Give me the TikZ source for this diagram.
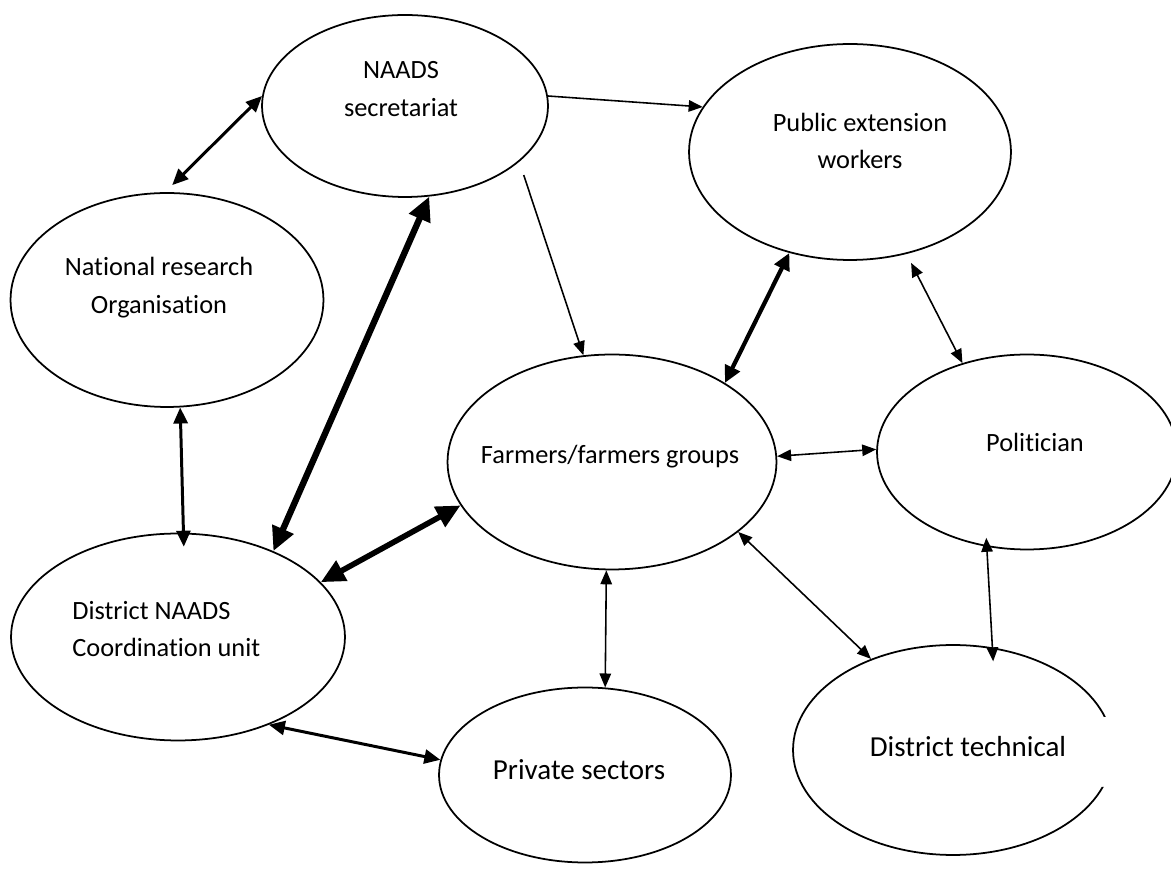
\documentclass[tikz,border=0pt]{standalone}
\usepackage{fontspec}
\setmainfont{Carlito}[Ligatures=NoCommon]
\usetikzlibrary{shapes.geometric, arrows.meta}

\begin{document}
\begin{tikzpicture}[x=0.02cm, y=-0.02cm, font=\fontsize{15}{21.5}\selectfont,
    bubble/.style={draw, ellipse, line width=1pt, inner sep=0pt},
    txt/.style={align=center, inner sep=0pt},
    big/.style={font=\fontsize{16.5}{20}\selectfont},
    slim link/.style={<->, line width=0.9pt, >={Triangle[length=2.8mm, width=2.3mm]}},
    mid link/.style={<->, line width=1.7pt, >={Triangle[length=3.2mm, width=2.8mm]}},
    bold link/.style={<->, line width=2.4pt, >={Triangle[length=3.4mm, width=3.2mm]}},
    heavy link/.style={<->, line width=3.6pt, >={Triangle[length=4.8mm, width=4.4mm]}}]
  \clip (0,0) rectangle (1171,891);

  % ellipses
  \node[bubble, minimum width=5.72cm, minimum height=3.64cm] (sec) at (405,106) {};
  \node[bubble, minimum width=6.26cm, minimum height=4.28cm] (nro) at (167,300) {};
  \node[bubble, minimum width=6.44cm, minimum height=4.32cm] (pub) at (850,152) {};
  \node[bubble, minimum width=6.58cm, minimum height=4.3cm] (far) at (612,462) {};
  \node[bubble, minimum width=6cm, minimum height=3.9cm] (pol) at (1027,452) {};
  \node[bubble, minimum width=6.68cm, minimum height=4.14cm] (dnc) at (178,637) {};
  \node[bubble, minimum width=5.84cm, minimum height=3.5cm] (pri) at (585,775) {};
  \begin{scope}
    \clip (0,0) rectangle (1171,717) (0,717) rectangle (1100,787) (0,787) rectangle (1171,891);
    \node[bubble, minimum width=6.4cm, minimum height=4.2cm] (dts) at (953,750) {};
  \end{scope}

  % labels
  \node[txt] (sec-t) at (401,89) {NAADS\\secretariat};
  \node[txt] (nro-t) at (159,288) {National research\\Organisation};
  \node[txt] (pub-t) at (860,141) {Public extension\\workers};
  \node[txt] (far-t) at (610,457) {Farmers/farmers groups};
  \node[txt] (pol-t) at (1035,442) {Politician};
  \node[txt, align=left, anchor=west] (dnc-t) at (72,629) {District NAADS\\Coordination unit};
  \node[txt, big] (pri-t) at (579,770) {Private sectors};
  \node[txt, big] (dts-t) at (968,747) {District technical};

  % links
  \draw[mid link, shorten >=0.2cm] (sec.176) -- (nro.91);
  \draw[slim link, <-] (pub.163) -- (sec.4);
  \draw[slim link, <-, shorten >=0.28cm] (far.105) -- (sec.-26);
  \draw[heavy link] (sec.-75) -- (dnc.42);
  \draw[heavy link, line width=3.2pt] (far.196) -- (dnc.21);
  \draw[bold link] (far.35) -- (pub.239);
  \draw[slim link, shorten >=0.2cm] (pol.126) -- (pub.-61);
  \draw[slim link] (far.2) -- (pol.179);
  \draw[slim link] (far.-93) -- (pri.77);
  \draw[slim link] (far.-29) -- (dts.132);
  \draw[slim link, shorten <=-0.18cm, shorten >=-0.28cm] (pol.-113) -- (dts.69);
  \draw[mid link, shorten >=-0.28cm] (nro.-83) -- (dnc.87);
  \draw[mid link] (dnc.-44) -- (pri.174);
\end{tikzpicture}
\end{document}
